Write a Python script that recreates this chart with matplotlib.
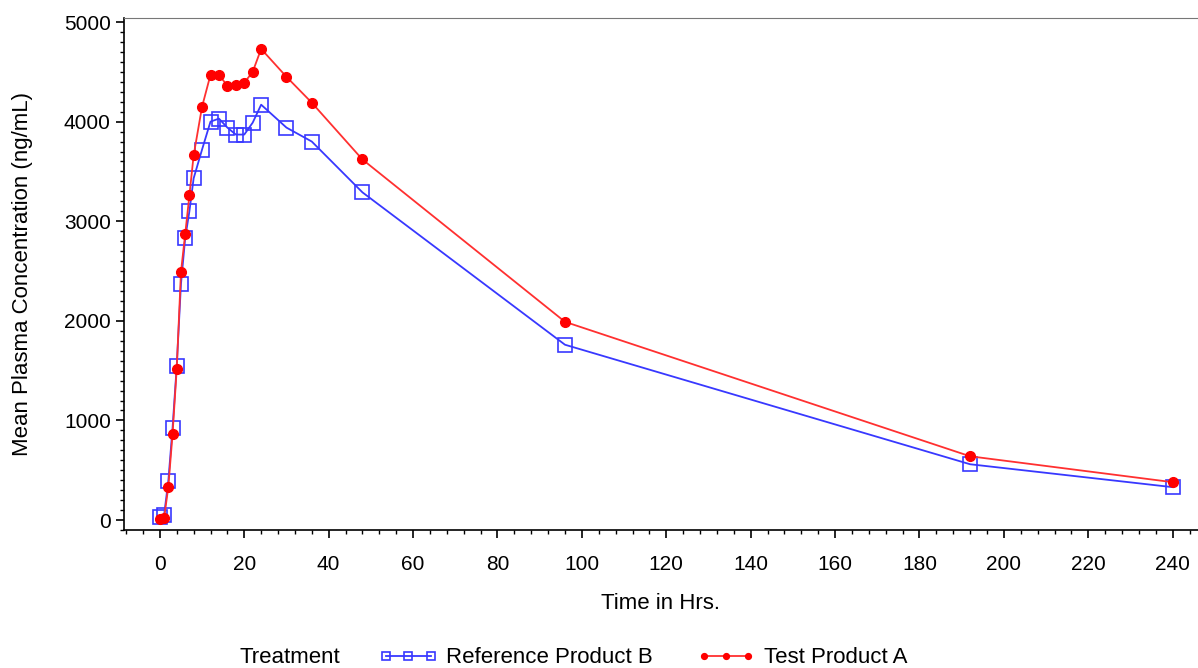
# mean plasma concentration vs time for two treatments
import matplotlib
matplotlib.use('Agg')
import matplotlib.pyplot as plt
from matplotlib.ticker import MultipleLocator

plt.rcParams['font.family'] = ['Liberation Sans', 'DejaVu Sans']

# sampling times (hours)
time_hrs = [0, 1, 2, 3, 4, 5, 6, 7, 8, 10, 12, 14, 16, 18, 20, 22, 24,
            30, 36, 48, 96, 192, 240]

# mean concentrations (ng/mL)
ref_b = [30, 50, 390, 920, 1550, 2370, 2830, 3100, 3430, 3720, 4000, 4030,
         3940, 3870, 3870, 3990, 4170, 3940, 3800, 3290, 1760, 560, 330]
test_a = [10, 20, 330, 860, 1520, 2490, 2870, 3260, 3660, 4150, 4470, 4470,
          4360, 4370, 4390, 4500, 4730, 4450, 4190, 3620, 1990, 640, 380]

fig = plt.figure(figsize=(11.98, 6.68), dpi=100)
ax = fig.add_axes([0.1035, 0.2066, 0.8965, 0.7664])

ax.plot(time_hrs, ref_b, color='#3838ff', lw=1.3, marker='s', ms=10,
        mfc='none', mec='#3838ff', mew=1.2, label='Reference Product B')
ax.plot(time_hrs, test_a, color='#ff3030', lw=1.3, marker='o', ms=7,
        mfc='#ff0000', mec='#ff0000', label='Test Product A')

# axes limits and ticks
ax.set_xlim(-8.5, 246)
ax.set_ylim(-100, 5040)
ax.xaxis.set_major_locator(MultipleLocator(20))
ax.xaxis.set_minor_locator(MultipleLocator(4))
ax.yaxis.set_major_locator(MultipleLocator(1000))
ax.yaxis.set_minor_locator(MultipleLocator(100))
ax.tick_params(axis='both', which='major', labelsize=15, length=6, width=1.2)
ax.tick_params(axis='both', which='minor', length=3, width=1)
ax.tick_params(axis='x', pad=12)

ax.spines['right'].set_visible(False)
ax.spines['top'].set_color('#777777')
ax.spines['left'].set_linewidth(1.2)
ax.spines['bottom'].set_linewidth(1.2)

ax.set_xlabel('Time in Hrs.', fontsize=16, labelpad=14)
ax.set_ylabel('Mean Plasma Concentration (ng/mL)', fontsize=16, labelpad=22)

# legend along the bottom
fig.text(0.2, 0.015, 'Treatment', fontsize=16, va='center', ha='left')
fig.legend(loc='center left', bbox_to_anchor=(0.30, 0.015), ncol=2,
           frameon=False, fontsize=16, handlelength=2.6, columnspacing=2.0,
           handletextpad=0.4, markerscale=0.6, numpoints=3)

plt.savefig('out.png', dpi=100)
